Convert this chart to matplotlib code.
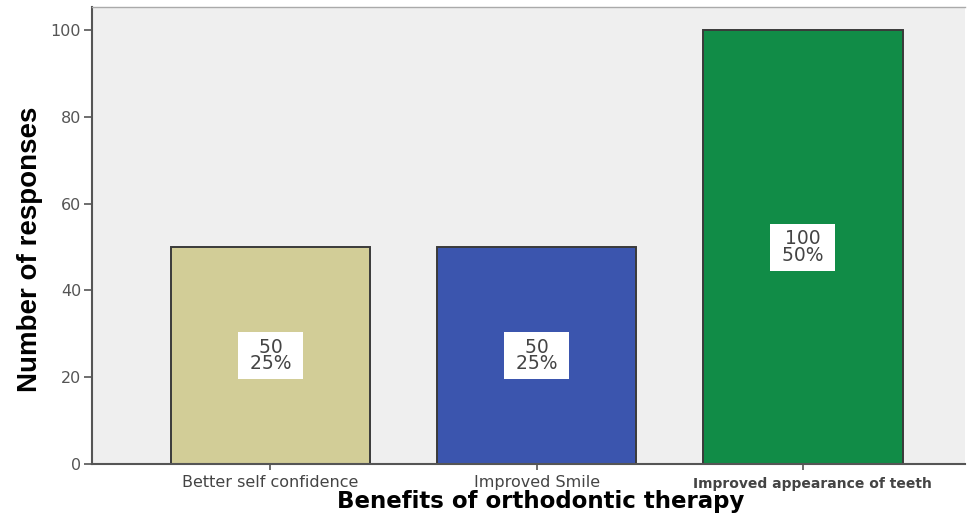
import matplotlib
matplotlib.use("Agg")
import matplotlib.pyplot as plt
import matplotlib.transforms as mtransforms

# ----------------------------------------------------------------------------
# Data
# ----------------------------------------------------------------------------
categories = ["Better self confidence", "Improved Smile",
              "Improved appearance of teeth"]
counts = [50, 50, 100]
percents = [25, 25, 50]
bar_colors = ["#d2cd97", "#3b55ae", "#118c47"]
y_ticks = [0, 20, 40, 60, 80, 100]

# ----------------------------------------------------------------------------
# Plot
# ----------------------------------------------------------------------------
fig = plt.figure(figsize=(9.7, 5.16), dpi=100)
ax = fig.add_axes([0.095, 0.101, 0.9, 0.885])
ax.set_facecolor("#efefef")

x = list(range(len(categories)))
ax.bar(x, counts, width=0.75, color=bar_colors, edgecolor="#3a3a3a",
       linewidth=1.4, zorder=2)

for xi, c, p in zip(x, counts, percents):
    ax.text(xi, c / 2, f" {c} \n {p}% ", ha="center", va="center",
            fontsize=13.5, color="#444444", linespacing=0.85, zorder=3,
            bbox=dict(boxstyle="square,pad=0.3", fc="white", ec="none"))

ax.set_xlim(-0.67, 2.61)
ax.set_ylim(0, 105.3)
ax.set_yticks(y_ticks)
ax.set_xticks(x)
ax.set_xticklabels(categories)
ax.tick_params(axis="y", labelsize=11.5, labelcolor="#555555", length=6,
               width=1.2, color="#555555", pad=2)
ax.tick_params(axis="x", labelsize=11.5, labelcolor="#444444", length=4,
               width=1.2, color="#555555", pad=4)
last = ax.get_xticklabels()[2]
last.set_fontweight("bold")
last.set_fontsize(10)
last.set_transform(last.get_transform() + mtransforms.ScaledTranslation(
    0.1, -0.02, fig.dpi_scale_trans))

for side in ("left", "bottom"):
    ax.spines[side].set_color("#555555")
    ax.spines[side].set_linewidth(1.5)
ax.spines["top"].set_color("#aaaaaa")
ax.spines["top"].set_linewidth(1.0)
ax.spines["right"].set_visible(False)

ax.set_ylabel("Number of responses", fontsize=20, fontweight="bold",
              family=["Liberation Sans", "DejaVu Sans"])
ax.yaxis.set_label_coords(-0.056, 0.47)
ax.set_xlabel("Benefits of orthodontic therapy", fontsize=16.5,
              fontweight="bold")
ax.xaxis.set_label_coords(0.514, -0.058)

fig.savefig("out.png", dpi=100)
